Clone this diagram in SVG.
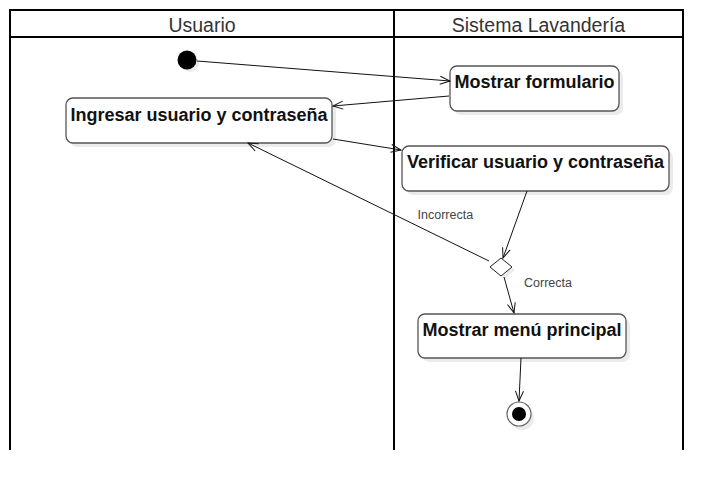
<svg xmlns="http://www.w3.org/2000/svg" width="722" height="490" viewBox="0 0 722 490">
<defs>
<style>
.lane{stroke:#000;stroke-width:2;fill:none}
.hdr{font-family:"Liberation Sans",Arial,sans-serif;font-size:19.5px;fill:#333;text-anchor:middle}
.box{fill:#fff;stroke:#555;stroke-width:1.3}
.shd{fill:#000;opacity:0.08}
.lbl{font-family:"Liberation Sans",Arial,sans-serif;font-size:18px;font-weight:bold;fill:#111;text-anchor:middle}
.edge{stroke:#111;stroke-width:1;fill:none;marker-end:url(#arr)}
.elbl{font-family:"Liberation Sans",Arial,sans-serif;font-size:12.5px;fill:#444}
</style>
<marker id="arr" markerUnits="userSpaceOnUse" markerWidth="12" markerHeight="10" refX="11" refY="5" orient="auto">
<path d="M1,1 L11,5 L1,9" fill="none" stroke="#111" stroke-width="1"/>
</marker>
</defs>
<rect width="722" height="490" fill="#fff"/>
<g id="swimlanes">
<path class="lane" d="M10,450 V10 H683 V450 M10,37 H683 M394,10 V450"/>
<text class="hdr" x="202" y="32">Usuario</text>
<text class="hdr" x="538.5" y="32">Sistema Lavandería</text>
</g>
<g id="start">
<circle cx="190" cy="63" r="9" class="shd"/>
<circle cx="187" cy="60" r="9.5" fill="#000"/>
</g>
<g id="n-ingresar">
<rect class="shd" x="70" y="102" width="266" height="45" rx="7"/>
<rect class="box" x="66" y="98" width="266" height="45" rx="7"/>
<text class="lbl" x="199" y="120.5">Ingresar usuario y contraseña</text>
</g>
<g id="n-formulario">
<rect class="shd" x="454" y="70" width="169" height="45" rx="7"/>
<rect class="box" x="450" y="66" width="169" height="45" rx="7"/>
<text class="lbl" x="534.5" y="87.5">Mostrar formulario</text>
</g>
<g id="n-verificar">
<rect class="shd" x="406" y="150" width="267" height="45" rx="7"/>
<rect class="box" x="402" y="146" width="267" height="45" rx="7"/>
<text class="lbl" x="535.5" y="168">Verificar usuario y contraseña</text>
</g>
<g id="decision">
<polygon class="shd" points="493,270 504,261 515,270 504,279"/>
<polygon points="490,267 501,258 512,267 501,276" fill="#fff" stroke="#222" stroke-width="1"/>
</g>
<g id="n-menu">
<rect class="shd" x="422" y="318" width="208" height="44" rx="7"/>
<rect class="box" x="418" y="314" width="208" height="44" rx="7"/>
<text class="lbl" x="522" y="336">Mostrar menú principal</text>
</g>
<g id="end">
<circle cx="522" cy="418" r="12" class="shd"/>
<circle cx="519" cy="414" r="12" fill="#fff" stroke="#666" stroke-width="1.2"/>
<circle cx="519" cy="414" r="7" fill="#000"/>
</g>
<g id="connectors">
<path class="edge" d="M197,61 L450,81"/>
<path class="edge" d="M449,96 L333,106"/>
<path class="edge" d="M333,139 L401,150"/>
<path class="edge" d="M527,191 L503,258"/>
<path class="edge" d="M489,261 L248,143"/>
<path class="edge" d="M504,277 L514,313"/>
<path class="edge" d="M521,358 L519,401"/>
<text class="elbl" x="417.5" y="218.5">Incorrecta</text>
<text class="elbl" x="524" y="286.5">Correcta</text>
</g>
</svg>
